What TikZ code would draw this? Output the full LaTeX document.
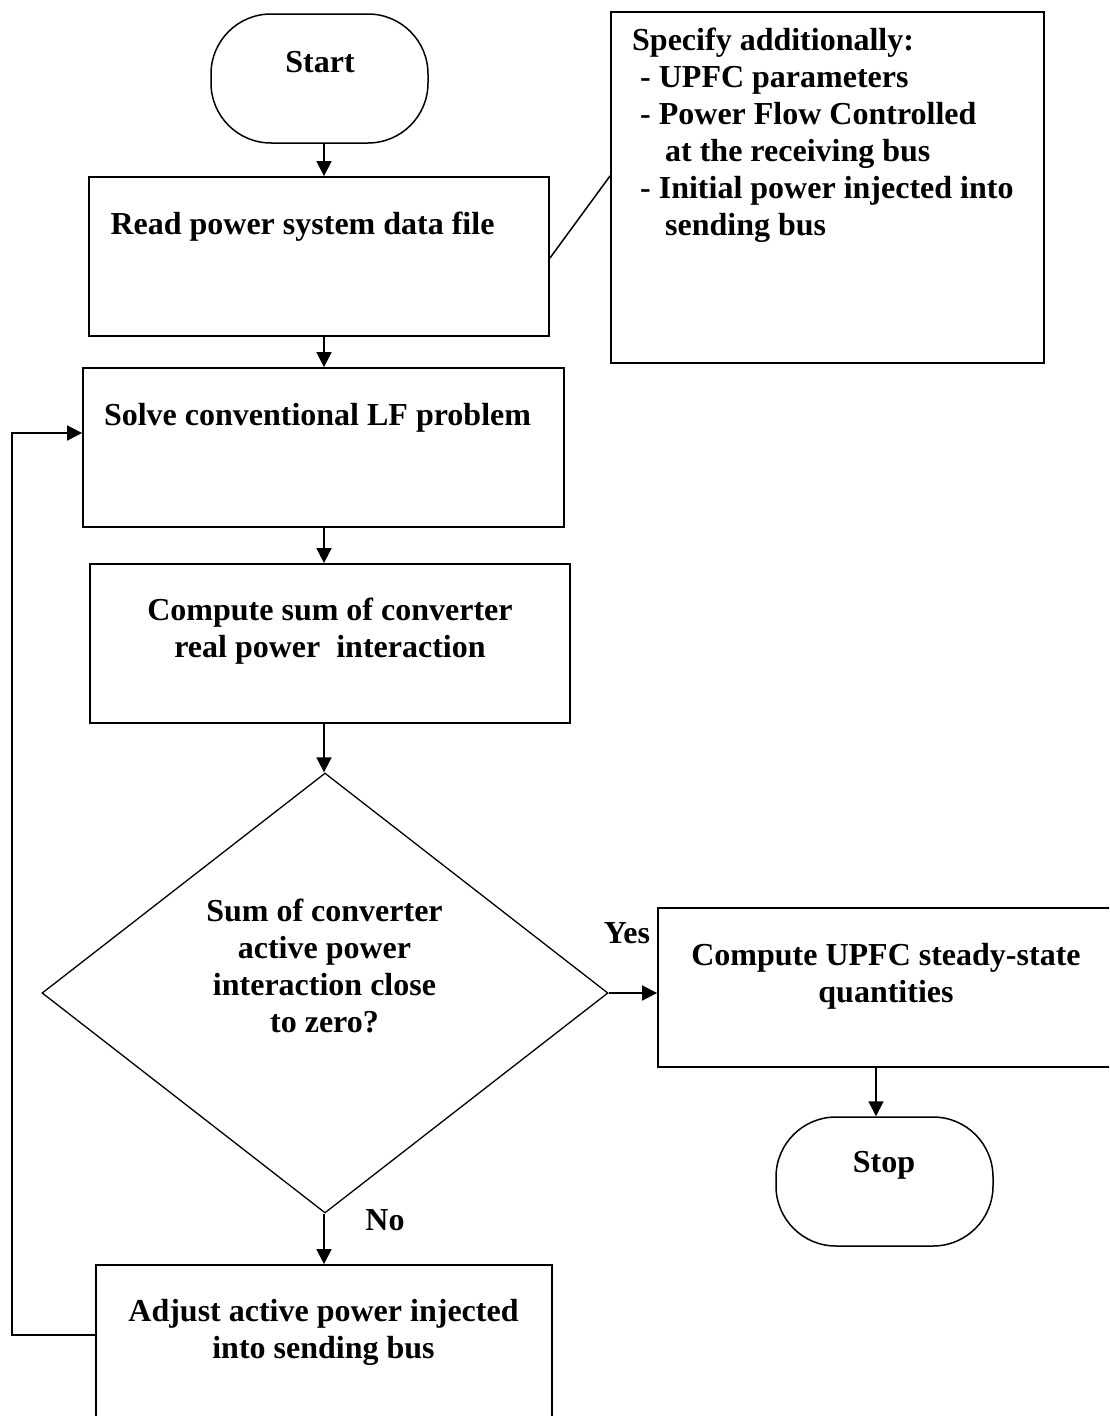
\documentclass[tikz,border=0pt]{standalone}
\usepackage{fontspec}
\setmainfont{Liberation Serif}
\usetikzlibrary{arrows.meta,shapes.geometric,calc}

\begin{document}
\begin{tikzpicture}[x=1pt,y=-1pt,
  txt/.style={font=\fontsize{32}{37}\selectfont\bfseries, align=center, inner sep=0pt},
  procbox/.style={draw, line width=1.8pt, inner sep=0pt},
  termbox/.style={draw, line width=1.5pt, rounded corners=60pt, inner sep=0pt,
                  minimum width=217pt, minimum height=129pt},
  decbox/.style={draw, diamond, line width=1.3pt, inner sep=0pt},
  arr/.style={line width=1.7pt, -{Triangle[length=15pt,width=15pt]}},
  plain/.style={line width=1.5pt}
]
\clip (0,0) rectangle (1109,1416);

% terminals
\node[termbox] (start) at (319.5,78.5) {};
\node[termbox] (stop)  at (884.5,1181.5) {};

% process boxes
\node[procbox, minimum width=460pt, minimum height=159pt] (read)    at (319,256.5) {};
\node[procbox, minimum width=433pt, minimum height=351pt] (side)    at (827.5,187.5) {};
\node[procbox, minimum width=481pt, minimum height=159pt] (solve)   at (323.5,447.5) {};
\node[procbox, minimum width=480pt, minimum height=159pt] (compute) at (330,643.5) {};
\node[procbox, minimum width=456pt, minimum height=159pt] (upfc)    at (886,987.5) {};
\node[procbox, minimum width=456pt, minimum height=165pt] (adjust)  at (324,1347.5) {};

% decision
\node[decbox, minimum width=566pt, minimum height=440pt] (dec) at (325,993) {};

% texts
\node[txt] (tstart) at (320,62) {Start};
\node[txt] (tstop) at (884,1165) {Stop};
\node[txt] (tread) at (302.5,227) {Read power system data file};
\node[txt, align=left, anchor=west] (tside) at (632,135.5)
  {Specify additionally:\\
   \hspace*{8pt}- UPFC parameters\\
   \hspace*{8pt}- Power Flow Controlled\\
   \hspace*{33pt}at the receiving bus\\
   \hspace*{8pt}- Initial power injected into\\
   \hspace*{33pt}sending bus};
\node[txt] (tsolve) at (317.5,418) {Solve conventional LF problem};
\node[txt] (tcompute) at (330,631.5) {Compute sum of converter\\ real power\ \ interaction};
\node[txt] (tdec) at (324.5,966) {Sum of converter\\ active power\\ interaction close\\ to zero?};
\node[txt] (tupfc) at (886,976.5) {Compute UPFC steady-state\\ quantities};
\node[txt] (tadjust) at (323.5,1332.5) {Adjust active power injected\\ into sending bus};
\node[txt] (tyes) at (627,933) {Yes};
\node[txt] (tno) at (385,1220) {No};

% guide coordinates for the connectors
\coordinate (spine) at (324,0);
\coordinate (stopline) at (876,0);
\coordinate (loopbot) at (12,1335);
\coordinate (looptop) at (12,433);

% connectors
\draw[arr] (start.south -| spine) -- (read.north -| spine);
\draw[arr] (read.south -| spine) -- (solve.north -| spine);
\draw[arr] (solve.south -| spine) -- (compute.north -| spine);
\draw[arr] (compute.south -| spine) -- (dec.north -| spine);
\draw[arr] (dec.south -| spine) -- (adjust.north -| spine);
\draw[arr] (dec.east) -- (dec.east -| upfc.west);
\draw[arr] (upfc.south -| stopline) -- (stop.north -| stopline);
\draw[arr] (adjust.west |- loopbot) -- (loopbot) -- (looptop) -- (solve.west |- looptop);
\draw[plain] ($(read.north east)!0.51!(read.south east)$) -- ($(side.north west)!0.467!(side.south west)$);
\end{tikzpicture}
\end{document}
